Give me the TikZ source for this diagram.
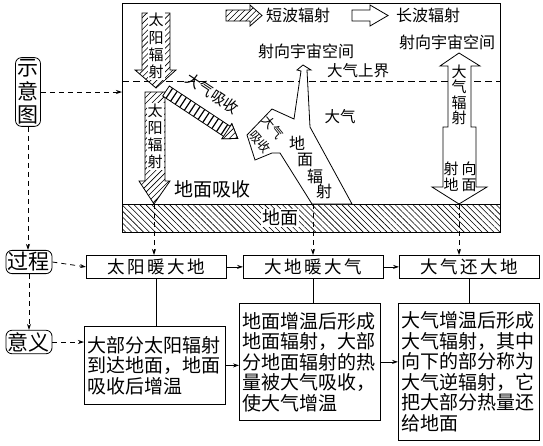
\documentclass[tikz,border=0pt]{standalone}
\usepackage{fontspec}
\setmainfont{Noto Sans CJK SC}
\usetikzlibrary{patterns.meta,arrows.meta}
\newcommand{\myfs}[1]{\fontsize{#1}{#1}\selectfont}
\begin{document}
\begin{tikzpicture}[x=1pt,y=-1pt,line width=0.8pt,
  lab/.style={inner sep=0pt,font=\myfs{15}},
  tagbox/.style={draw,rounded corners=6pt,inner sep=2pt,align=center,font=\fontsize{21}{23.5}\selectfont},
  procbox/.style={draw,minimum width=140pt,minimum height=23pt,inner sep=0pt,anchor=north west,font=\myfs{17.5}},
  meanbox/.style={draw,text width=135pt,inner xsep=3pt,inner ysep=0pt,align=left,anchor=north west,font=\fontsize{19}{20.5}\selectfont},
  dasharrow/.style={dash pattern=on 5pt off 4pt,-{Stealth[length=6pt,width=4pt]}},
  solidarrow/.style={-{Stealth[length=6pt,width=4pt]}},
  sw/.style={preaction={fill=white},pattern={Lines[angle=45,distance=4.2pt,line width=0.6pt]}},
  gr/.style={pattern={Lines[angle=-45,distance=4.2pt,line width=0.6pt]}},
  wa/.style={fill=white}
]
\useasboundingbox (0,0) rectangle (543,445);

% frame, upper boundary, ground
\draw (122,3) rectangle (500,232);
\draw[dash pattern=on 7pt off 4pt] (122,81) -- (500,81);
\draw[gr] (122,204) rectangle (500,232);

% legend
\draw[sw] (226,10) -- (250,10) -- (250,5) -- (262,15.5) -- (250,26) -- (250,21) -- (226,21) -- cycle;
\node[lab,font=\myfs{16}] (lg1) at (298,15) {短波辐射};
\draw[wa] (352,10) -- (370,10) -- (370,5) -- (388,15.5) -- (370,26) -- (370,21) -- (352,21) -- cycle;
\node[lab,font=\myfs{16}] (lg2) at (428,15) {长波辐射};

% solar radiation, upper
\draw[sw] (142,13) -- (170,13) -- (170,70) -- (176,70) -- (156,88) -- (135,70) -- (142,70) -- cycle;
\node[lab,fill=white,inner sep=1pt,align=center,font=\fontsize{15}{17.3}\selectfont] (sr1) at (156,46) {太\\阳\\辐\\射};

% solar radiation, lower
\draw[sw] (145,92) -- (165,92) -- (165,181) -- (170,181) -- (154,204) -- (139,181) -- (145,181) -- cycle;
\node[lab,fill=white,inner sep=1pt,align=center,font=\fontsize{15}{17}\selectfont] (sr2) at (155,136.5) {太\\阳\\辐\\射};

% atmospheric absorption (diagonal)
\begin{scope}[shift={(166,91)},rotate=-33.5]
  \draw[wa] (0,-6) -- (73,-6) -- (73,-9) -- (86,0) -- (73,9) -- (73,6) -- (0,6) -- cycle;
  \foreach \u in {4,9.5,...,70} \draw[line width=1.2pt] (\u,-6) -- (\u,6);
  \draw[sw] (73,-9) -- (86,0) -- (73,9) -- cycle;
\end{scope}
\node[lab,rotate=-33.5] (dqxs) at (212.5,93.5) {大气吸收};

% ground radiation
\draw[wa] (303,65) -- (311,70) -- (307,70) -- (310,127) -- (352,204) -- (312,204) -- (280,153) -- (272,153) -- (255,160) -- (247,135) -- (272,109) -- (294,119) -- (301,71) -- (297,70) -- cycle;
\node[lab,rotate=-51,font=\myfs{12.5}] (dq2) at (273,127) {大气};
\node[lab,rotate=-51,font=\myfs{12.5}] (xs2) at (260,142) {吸收};
\node[lab,font=\myfs{16}] (c1) at (297,143) {地};
\node[lab,font=\myfs{16}] (c2) at (305,160) {面};
\node[lab,font=\myfs{16}] (c3) at (315,176) {辐};
\node[lab,font=\myfs{16}] (c4) at (324,191) {射};

% atmospheric radiation
\draw[wa] (459,53) -- (480,66) -- (471,66) -- (471,127) -- (476,127) -- (476,187) -- (487,187) -- (459,204) -- (432,187) -- (443,187) -- (443,127) -- (448,127) -- (448,66) -- (440,66) -- cycle;
\node[lab,align=center,font=\fontsize{15}{15.5}\selectfont] (dqfs) at (459,95) {大\\气\\辐\\射};
\node[lab,align=center,font=\fontsize{15}{16}\selectfont] (sxdm) at (460,177) {射\hspace{3pt}向\\地\hspace{3pt}面};

% labels in the scene
\node[lab,font=\myfs{16}] (sx1) at (306,51) {射向宇宙空间};
\node[lab,font=\myfs{16}] (sx2) at (447,42) {射向宇宙空间};
\node[lab,font=\myfs{15.5}] (dqsj) at (358,71) {大气上界};
\node[lab,font=\myfs{15.5}] (dq) at (340,117) {大气};
\node[lab,font=\myfs{19}] (dmxs) at (212,189) {地面吸收};
\node[lab,fill=white,inner sep=1pt,font=\myfs{18}] (dm) at (280,218) {地面};

% left tags
\node[tagbox] (sy) at (28,92) {示\\意\\图};
\node[tagbox] (gc) at (29,262) {过程};
\node[tagbox] (yy) at (29,342) {意义};
\coordinate (fl) at (122,92);

% process boxes
\node[procbox] (p1) at (86,255) {太\hspace{2.5pt}阳\hspace{2.5pt}暖\hspace{2.5pt}大\hspace{2.5pt}地};
\node[procbox] (p2) at (243,255) {大\hspace{2.5pt}地\hspace{2.5pt}暖\hspace{2.5pt}大\hspace{2.5pt}气};
\node[procbox] (p3) at (399,255) {大\hspace{2.5pt}气\hspace{2.5pt}还\hspace{2.5pt}大\hspace{2.5pt}地};

% meaning boxes
\node[meanbox,minimum height=78pt] (m1) at (84,326) {大部分太阳辐射\\到达地面，地面\\吸收后增温};
\node[meanbox,minimum height=117pt] (m2) at (239,303) {地面增温后形成\\地面辐射，大部\\分地面辐射的热\\量被大气吸收，\\使大气增温};
\node[meanbox,minimum height=137pt] (m3) at (398,303) {大气增温后形成\\大气辐射，其中\\向下的部分称为\\大气逆辐射，它\\把大部分热量还\\给地面};

% ground points
\coordinate (g1) at (154,204);
\coordinate (g2) at (313,204);
\coordinate (g3) at (459,204);

% connectors
\draw[dasharrow] (sy.east) -- (fl);
\draw[dasharrow] (sy.south) -- (sy.south |- gc.north);
\draw[dasharrow] (gc.south) -- (yy.north);
\draw[dasharrow] (gc.east) -- (p1.west);
\draw[dasharrow] (yy.east) -- (yy.east -| m1.west);
\draw[dasharrow] (g1) -- (g1 |- p1.north);
\draw[dasharrow] (g2) -- (g2 |- p2.north);
\draw[dasharrow] (g3) -- (g3 |- p3.north);
\draw[solidarrow] (p1.east) -- (p2.west);
\draw[solidarrow] (p2.east) -- (p3.west);
\draw[solidarrow] (m1.east) -- (m1.east -| m2.west);
\draw[solidarrow] (m2.east) -- (m2.east -| m3.west);
\draw (p1.south) -- (p1.south |- m1.north);
\draw (p2.south) -- (p2.south |- m2.north);
\draw (p3.south) -- (p3.south |- m3.north);
\end{tikzpicture}
\end{document}
